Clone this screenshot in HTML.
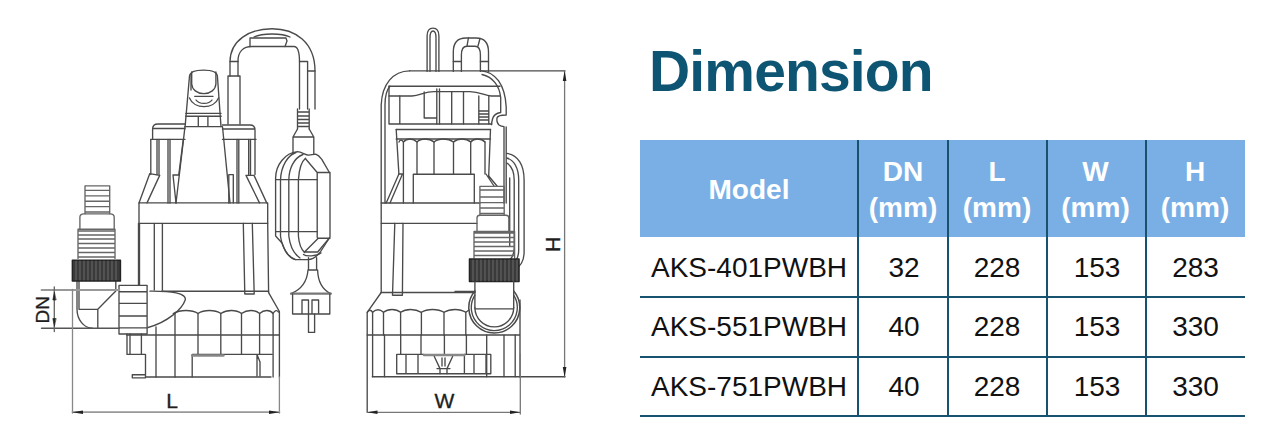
<!DOCTYPE html>
<html><head><meta charset="utf-8">
<style>
html,body{margin:0;padding:0;background:#fff;}
body{width:1280px;height:443px;position:relative;overflow:hidden;font-family:"Liberation Sans",sans-serif;}
.t{position:absolute;white-space:nowrap;line-height:1;}
#title{left:649px;top:43px;font-size:57px;font-weight:bold;color:#0e5574;letter-spacing:-0.85px;}
#hdr{position:absolute;left:640px;top:140px;width:605px;height:97px;background:#7aafe5;}
.vl{position:absolute;top:140px;width:2px;height:277px;background:#17536f;}
.hl{position:absolute;left:640px;width:605px;height:2px;background:#17536f;}
.h{color:#fff;font-weight:bold;font-size:28px;text-align:center;line-height:36px;}
.c{color:#111;font-size:28px;text-align:center;}
svg{position:absolute;left:0;top:0;}
</style></head><body>
<svg width="1280" height="443" viewBox="0 0 1280 443">
<g fill="none" stroke="#4a4a4a" stroke-width="1.35" stroke-linejoin="round" stroke-linecap="round">
<g id="left">
<!-- cable loop -->
<path d="M230,76 L230,62 C230,40 250,28.7 272,28.7 C295,28.7 315,42 315,71 L315,109"/>
<path d="M238,76 L238,61 C238,52 243,46.5 252,46.5 L294,46.5 C298,46.5 299.5,52 299.5,62 L299.5,109"/>
<path d="M307.6,62 L307.6,109"/>
<path d="M230,61.5 H238 M299.5,61.5 H307.6 M307.6,71 H315"/>
<path d="M250,38 H286 L287,41 L285,46.5 M250,38 V46.5"/>
<path d="M254,37 C262,33 282,33 290,37"/>
<!-- sleeve -->
<path d="M228,76 H240 V124 M228,76 V124"/>
<!-- ridges right cable -->
<path d="M297.5,109 V129 M309.2,109 V129 M297.5,112 H309.2 M297.5,116 H309.2 M297.5,119.5 H309.2 M297.5,123 H309.2 M297.5,126.5 H309.2"/>
<!-- float neck -->
<path d="M297.5,129 L293,137 V154 M309.2,129 L313.8,137 V154 M293,137 H313.8"/>
<!-- float body -->
<path d="M275.6,236 V178 C275.6,165 285,153 297.4,151.7 C302,152 305,155 308.6,155.2 L315.7,154.2 C318,155 320,157 321.8,159.3 L330,173.5 V237 L320,252.5 C317,256 312,259.6 308,259.6 H295.4 C289,258 285,252 282.2,243.3 L275.6,236"/>
<path d="M280.5,236 V180 C281,166 288,155 296,152.5 M280.5,236 C282,248 288,257 295.4,259.6"/>
<path d="M288.8,236 V180 C289,168 294,158 303,154.5 M288.8,236 C290,246 294,254 300,258"/>
<path d="M298.4,236 V180 C299,170 301,162 305.5,158.3 M298.4,236 C299,244 301,249 304.5,252.5"/>
<path d="M305.5,158.8 L317.2,172.5 H330 M317.2,172.5 V237 C317.2,238 317.5,238.2 318,238.2 H330"/>
<path d="M275.6,179.6 H317.2 M275.6,231.6 H317.2"/>
<path d="M318,238.5 L304.5,252 H317.7 L329,238.5"/>
<path d="M303.5,254.5 C306,256.5 316,256.5 321,253"/>
<!-- plug -->
<path d="M308.5,257.7 V270 M316.6,257.7 V270 M308.5,270 H316.6"/>
<path d="M308,270 C307,283 300,290 291,293.7 M317.6,270 C318,283 323,290 330.8,293.7"/>
<path d="M291,293.7 H330.8" stroke-width="2.2" stroke="#777"/>
<path d="M292.6,294 V314 H329.8 V294 M302,300 V314 M308.5,300 V314 M302,300 H308.5 M312,300 V314 M318.6,300 V314 M312,300 H318.6"/>
<path d="M308.5,314 V332.4 H314.6 V314"/>
<!-- handle -->
<path d="M185.1,126.6 L189.5,76 C190,72 194,70.1 203.5,70.1 C213,70.1 217,72 217.4,76 L221,126.6"/>
<path d="M191,74 V90"/>
<path d="M191.7,72 V84 C192,89.5 197,93.6 203.8,93.6 C210.6,93.6 215.6,89.5 215.9,84 V72"/>
<path d="M194.7,96.3 H213 M196,100 C199,104.5 209,104.5 212,100 M189.5,98 C194,109.5 214,109.5 218.5,98"/>
<path d="M185.9,113.4 H221 M185.6,116.2 H221.2 M198.3,116.2 V126.6 M207.9,116.2 V126.6 M185,126.6 H222"/>
<!-- shoulders -->
<path d="M152.6,139.4 V129 C152.6,126 154,124 158,124 H185 M152.6,128.5 H185 M150.8,139.4 H185"/>
<path d="M222.5,125 H250 C253,125 255,127 255,130 V139.4 M222.5,129 H255 M222.5,139.4 H256"/>
<!-- main column edges -->
<path d="M185,126.7 L176,203 M222.5,126.7 L230,203"/>
<!-- legs left -->
<path d="M150.8,139.4 V174.6 M157,139.4 V174.6 M159,139.4 V174.6 M168,139.4 V203 M170,139.4 V203 M183.3,139.4 L178.8,174.6"/>
<path d="M149.8,173.6 L139,202.9 M159.7,175.4 L147,202.9 M149.8,173.6 L159.7,175.4 M173,175 L176,203 M173,175 L178.8,175"/>
<!-- legs right -->
<path d="M237,139.4 V203 M238.8,139.4 V203 M248.7,139.4 V174.6 M250.5,139.4 V174.6 M255,139.4 V174.6"/>
<path d="M228.8,174.6 V203 M233.3,174.6 V203 M228.8,174.6 H233.3 M246,175.4 L259.5,202.9 M254,175.4 L266.7,202.9 M246,175.4 H254"/>
<!-- band -->
<path d="M139,202.9 H267.7 V223.3 H139 Z"/>
<!-- below band -->
<path d="M139.5,223.3 V285 M154.3,223.3 V290 M162.4,223.3 V290 M243.3,223.3 L244.8,294 M252.3,223.3 L254.2,294 M244.8,294 H254.2 M267.7,223.3 L268.6,292.6"/>
<!-- hose connector -->
<path stroke="#666" d="M85,185.8 H109.7 V213.8 M85,185.8 V213.8 M85,190.3 H109.7 M85,195.8 H109.7 M85,201.2 H109.7 M85,206.6 H109.7 M85,212 H109.7"/>
<path stroke="#666" d="M79.9,229.2 V217 C79.9,214.5 81,213.8 84,213.8 H110 C113,213.8 114.2,214.5 114.2,217 V229.2"/>
<path stroke="#666" d="M78,229.2 H115 V258.4 M78,229.2 V258.4 M78,231 H115 M78,235 H115 M78,239 H115 M78,243.5 H115 M78,248 H115 M78,252.5 H115 M78,257 H115"/>
<!-- elbow -->
<path d="M77,281 V309 C77,320 84,328 92.3,328.2 M79,281 V309.3 H97.8 V328.2 M97.8,309.3 L115.8,291 V281"/>
<!-- union nut -->
<path d="M119,285.3 H147.1 V334 H119 Z M119,291.7 H147.1 M119,303.4 H147.1 M119,316 H147.1 M119,327.8 H147.1 M138.5,223.3 V285.3"/>
<!-- bulge -->
<path d="M161.6,291.2 H268.6 M150,291.2 C170,291 188,293 185,300.5 C182,309 168,322 148,327.5"/>

<!-- base scallops -->
<path d="M173.3,313.5 C180,309.5 192,309.5 198,313.5 C204,309.5 215,309.5 220.8,313.5 C227,309.5 236,309.5 241.5,313.5 C247,309.5 255,309.5 259.6,313.5 C264,309.5 270,309.5 273.1,313.5 C275,310 277,310 278.5,312"/>
<path d="M268.6,292.6 L279.4,311.5 V377 M175,313.5 V377 M198,313.5 V354.4 M220.8,313.5 V354.4 M241.5,313.5 V354.4 M259.6,313.5 V354.4 M273.1,313.5 V377"/>
<path d="M126.7,335 H279.4"/>
<path d="M156,327 V377"/>
<path d="M127,334 V354.4 H145.5 V377.8 H132.3 V374.7 H145.5 M130,334 V354.4 M141.4,334 V354.4"/>
<path d="M145.5,377 H271"/>
<path d="M192.2,377 V354.4 H257 V376 M257,354.4 L260,362 V376 M257,354.4 H272.2"/>
<path d="M192.2,355.5 H223.4" stroke-width="2.5" stroke="#888"/>
<!-- knurled nut -->
<rect x="72.3" y="260.2" width="48.2" height="20.8" fill="#3a3a3a" stroke="#222"/>
<g stroke="#777" stroke-width="0.8">
<path d="M76,261 V280 M80,261 V280 M84,261 V280 M88,261 V280 M92,261 V280 M96,261 V280 M100,261 V280 M104,261 V280 M108,261 V280 M112,261 V280 M116,261 V280"/>
</g>
<!-- DN dimension -->
<path d="M41.5,290 H119.4" stroke="#999" stroke-width="1.8"/>
<path d="M41.5,328.2 H119.4" stroke="#555"/>
<path d="M54.3,286.8 V331.5" stroke="#666"/>
<path d="M54.3,292.5 L52.8,300 H55.8 Z M54.3,326 L52.8,318.5 H55.8 Z" fill="#222" stroke="#222" stroke-width="0.6"/>
<!-- L dimension -->
<path d="M72.5,289.4 V413 M279.4,377 V413" stroke="#888" stroke-width="1.3"/>
<path d="M72.5,412.2 H279.4" stroke="#999" stroke-width="1.8"/>
<path d="M72,412.2 L83,410.4 V414 Z M279.8,412.2 L269,410.4 V414 Z" fill="#222" stroke="none"/>
</g>
<g id="right">
<!-- handle loop -->
<path d="M427.1,71.4 V36 C427.1,30 430,28.1 433,28.1 C436,28.1 438.9,30 438.9,36 V71.4 M430,71.4 V38 C430,33 431.5,31 433,31 C434.5,31 436,33 436,38 V71.4"/>
<!-- cable loop -->
<path d="M453.3,71.4 V52 C453.3,42 458,38 466,38 H476 C484,38 488.5,42 488.5,52 V71.4"/>
<path d="M461.4,71.4 V55 C461.4,49 463,46.2 467,46.2 H475 C479,46.2 480.4,49 480.4,55 V71.4"/>
<path d="M453.3,61.5 H461.4 M480.4,61.5 H488.5 M468.4,38 L467,46.2 M480,38.5 L478,46"/>
<!-- cover top -->
<path d="M409.7,70.8 H565"/>
<path d="M409.7,70.8 C393,71 382,84 381.2,105 V292.5 M390,86.2 C386.5,90 385,96 385,105 V203"/>
<path d="M481.5,70.8 C495,72 505,84 506.2,107 V115 C502,115 497.5,115.5 497,118 C496.5,121 497,123 499,125 C500.5,126 502,126.5 504,126.7 V203 M506.2,127 V203"/>
<path d="M482,74.5 C493,77 499.5,86 500.7,97.6 V112.5 C497,113 493.5,115 492.5,119 L491.3,124.7"/>
<path d="M389,86.2 H500"/>
<path d="M389,96 H412 C420,96 424,91.6 434,91.6 H470 C480,91.6 485,96 491,96 H500"/>
<path d="M389,86.2 V124 M399.8,96 V124 M389,124 H492 M396.2,129.5 H490.5 M396.2,139 H490.5"/>
<path d="M424.2,92 V118 H436.8 M436.8,89 V124 M439.5,89 V124 M451.7,91.6 V124 M463.5,91.6 V124"/>
<path d="M478.8,96 V124 M488.8,96 V124 M478.8,111 H488.8 M478.8,114 H488.8 M478.8,117 H488.8 M478.8,120 H488.8"/>

<!-- ribbed section -->
<path d="M396.2,129.5 L398.9,174 M490.5,129.5 L488.7,176"/>
<path d="M399,142 C400,139.5 402,139.5 403.4,142 C407,138 413,138 417,142 C421,138 429,138 434,142 C439,138 448,138 453.5,142 C458,138 466,138 470.7,142 C474,138 481,138 485,142"/>
<path d="M403.4,142 V203 M417,142 V174 M434,142 V174 M453.5,142 V174 M470.7,142 V174 M485,142 V174"/>
<path d="M413.3,174.2 H474.3 M413.3,174.2 V203 M474.3,174.2 V203"/>
<path d="M398.9,174 L386.2,203 M402.5,174 L390,203 M398.9,174 H402.5"/>
<path d="M486,174 L494,186 M488.7,176 L497,186"/>
<!-- band -->
<path d="M381.2,203 H480 M381.2,223.3 H477"/>

<path d="M381.2,292.5 L367.2,312.3 V412"/>
<path d="M394.8,223.3 L392.5,295.2 H402.4 L403,223.3"/>
<path d="M381.2,292.5 H475"/>
<!-- float side -->
<path d="M506.8,153.4 C518,155 524.1,165 524.1,180 V252 C524.1,262 520,266 515,270"/>
<path d="M506.8,158 C514,160 518.7,168 518.7,180 V250 C518.7,258 516,262 512,266"/>
<path d="M506.8,163 C510,165 514.2,170 514.2,180 V248 C514.2,254 512,258 509,261"/>
<path d="M509.7,178 V246"/>
<!-- hose connector -->
<path stroke="#666" d="M479.9,186.3 H504.2 V215.2 M479.9,186.3 V215.2 M479.9,190 H504.2 M479.9,197 H504.2 M479.9,202.6 H504.2 M479.9,208 H504.2 M479.9,213.5 H504.2"/>
<path stroke="#666" d="M477,231.5 V218 C477,216 478,215.2 480,215.2 H506 C508,215.2 508.8,216 508.8,218 V231.5"/>
<path stroke="#666" d="M474,231.5 H514.6 V258 M474,231.5 V258 M474,233 H514.6 M474,237.5 H514.6 M474,242 H514.6 M474,246.5 H514.6 M474,251 H514.6 M474,255.5 H514.6"/>
<rect x="469.4" y="259" width="49.7" height="22.5" fill="#3a3a3a" stroke="#222"/>
<g stroke="#777" stroke-width="0.8">
<path d="M473,260 V281 M477,260 V281 M481,260 V281 M485,260 V281 M489,260 V281 M493,260 V281 M497,260 V281 M501,260 V281 M505,260 V281 M509,260 V281 M513,260 V281 M517,260 V281"/>
</g>
<!-- elbow -->
<path d="M474.9,281.5 V307.5 M513.7,281.5 V307.5 M474.9,308.8 H513.7"/>
<path d="M474.9,307.5 A19.4,19.4 0 0 0 513.7,307.5"/>
<path d="M474.9,291 A25.5,25.5 0 1 0 513.7,291" stroke-width="1.5"/>
<path d="M474.9,295.2 A23,23 0 1 0 513.7,295.2"/>
<path d="M455,291.5 H474.9"/>
<!-- base -->
<path d="M367.2,312.3 C369,309.5 371,309.5 372.6,312.3 C376,309 380,309 383.5,312.3 C388,308.5 396,308.5 400.6,312.3 C406,308.5 415,308.5 421.4,312.3 C427,308.5 438,308.5 444,312.3 C450,308.5 460,308.5 465.8,312.3 L469,310"/>
<path d="M372.6,312.3 V376.7 M383.5,312.3 V335 M400.6,312.3 V335 M421.4,312.3 V335 M444,312.3 V335 M465.8,312.3 V335"/>
<path d="M367.2,335 H520 M520,300 V377.2"/>
<path d="M384.5,335 V376.7 M400.7,335 V354.4 M421,335 V354.4 M444.4,335 V354.4 M466.4,335 V354.4 M486.7,335 V376.7 M504,335 V376.7 M515.2,335 V376.7"/>
<path d="M372.3,376.7 H565"/>
<path d="M396.7,354.4 V373.7 H490.8 V354.4 M396.7,354.4 H424 M406,354.4 V373.7 M418,354.4 V373.7 M464.4,354.4 H490.8 M464.4,354.4 V373.7 M474,354.4 V373.7 M486,354.4 V373.7"/>
<path d="M424,355 H464.4" stroke-width="2.5" stroke="#888"/>
<path d="M434.3,356.5 L440,368.6 V373.7 M452.6,356.5 L447,368.6 V373.7 M437,368.6 H450 M442,358 V366 M445,358 V366"/>
<!-- W dimension -->
<path d="M367.2,412.3 H520.3 M520.3,354 V414" stroke="#777" stroke-width="1.3"/>
<path d="M367.2,412.3 L377.5,410.5 V414.1 Z M520.3,412.3 L510,410.5 V414.1 Z" fill="#222" stroke="none"/>
<!-- H dimension -->
<path d="M564.6,70.8 V377.2" stroke="#777" stroke-width="1.3"/>
<path d="M564.6,70.8 L562.8,81 H566.4 Z M564.6,377.2 L562.8,367 H566.4 Z" fill="#222" stroke="none"/>
</g>
</g>
<g font-family="Liberation Sans, sans-serif" fill="#1e1e1e" stroke="#1e1e1e" stroke-width="0.35">
<text x="0" y="0" font-size="19" transform="translate(48.8,323.5) rotate(-90)">DN</text>
<text x="166.3" y="408.3" font-size="21">L</text>
<text x="434.5" y="408.2" font-size="21">W</text>
<text x="0" y="0" font-size="21" transform="translate(545.6,236.8) rotate(90)">H</text>
</g>
</svg>
<div id="title" class="t">Dimension</div>
<div id="hdr"></div>
<div class="vl" style="left:857px"></div>
<div class="vl" style="left:947px"></div>
<div class="vl" style="left:1046px"></div>
<div class="vl" style="left:1145px"></div>
<div class="hl" style="top:296px"></div>
<div class="hl" style="top:356px"></div>
<div class="hl" style="top:415px"></div>
<div class="t h" style="left:640px;width:218px;top:172px">Model</div>
<div class="t h" style="left:858px;width:90px;top:154px">DN<br>(mm)</div>
<div class="t h" style="left:948px;width:98px;top:154px">L<br>(mm)</div>
<div class="t h" style="left:1046px;width:99px;top:154px">W<br>(mm)</div>
<div class="t h" style="left:1145px;width:100px;top:154px">H<br>(mm)</div>
<div class="c t" style="left:640px;width:218px;top:254px">AKS-401PWBH</div>
<div class="c t" style="left:859px;width:90px;top:254px">32</div>
<div class="c t" style="left:948px;width:98px;top:254px">228</div>
<div class="c t" style="left:1047.5px;width:99px;top:254px">153</div>
<div class="c t" style="left:1145.5px;width:100px;top:254px">283</div>
<div class="c t" style="left:640px;width:218px;top:313px">AKS-551PWBH</div>
<div class="c t" style="left:859px;width:90px;top:313px">40</div>
<div class="c t" style="left:948px;width:98px;top:313px">228</div>
<div class="c t" style="left:1047.5px;width:99px;top:313px">153</div>
<div class="c t" style="left:1145.5px;width:100px;top:313px">330</div>
<div class="c t" style="left:640px;width:218px;top:373px">AKS-751PWBH</div>
<div class="c t" style="left:859px;width:90px;top:373px">40</div>
<div class="c t" style="left:948px;width:98px;top:373px">228</div>
<div class="c t" style="left:1047.5px;width:99px;top:373px">153</div>
<div class="c t" style="left:1145.5px;width:100px;top:373px">330</div>
</body></html>
